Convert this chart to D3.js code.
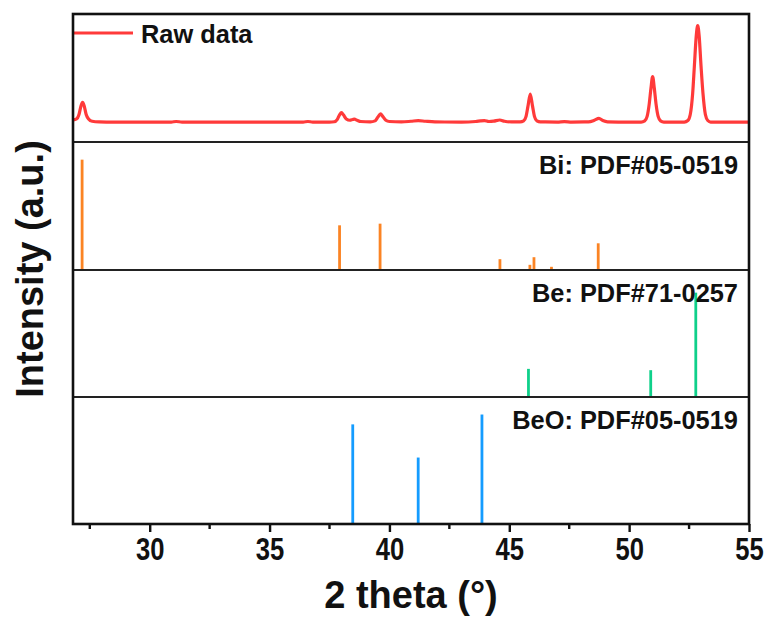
<!DOCTYPE html>
<html>
<head>
<meta charset="utf-8">
<script src="https://cdn.jsdelivr.net/npm/d3@7"></script>
<style>
  html, body { margin: 0; padding: 0; background: #fff; }
  svg text { font-family: Arial, "Liberation Sans", sans-serif; font-weight: bold; fill: #111; }
</style>
</head>
<body>
<svg id="chart" width="774" height="624"></svg>
<script>
// Measured XRD pattern: [2θ (°), intensity (counts, a.u.)]
const rawPattern = [
  [26.8, 172], [26.95, 180], [27.05, 215], [27.13, 280], [27.2, 310], [27.27, 280],
  [27.35, 215], [27.45, 180], [27.6, 162], [27.9, 157], [28.5, 155], [29.5, 155],
  [30.5, 155], [30.9, 156], [31.1, 160], [31.35, 156], [32.5, 155], [34.0, 155],
  [35.5, 155], [36.4, 156], [36.6, 160], [36.8, 156], [37.5, 156], [37.7, 158],
  [37.82, 175], [37.92, 212], [38.0, 229], [38.08, 212], [38.2, 180], [38.35, 170],
  [38.47, 176], [38.54, 178], [38.65, 170], [38.8, 160], [39.2, 157], [39.4, 165],
  [39.52, 195], [39.63, 219], [39.72, 200], [39.85, 170], [40.0, 160], [40.5, 157],
  [40.9, 162], [41.2, 167], [41.5, 162], [41.9, 157], [43.0, 156], [43.6, 160],
  [43.8, 165], [43.96, 167], [44.15, 160], [44.35, 163], [44.6, 172], [44.8, 162],
  [45.1, 157], [45.45, 157], [45.6, 165], [45.7, 200], [45.78, 280], [45.875, 375],
  [45.97, 280], [46.05, 200], [46.15, 165], [46.3, 157], [47.0, 156], [47.3, 159],
  [47.6, 156], [48.3, 157], [48.55, 170], [48.74, 185], [48.9, 168], [49.1, 158],
  [50.0, 156], [50.5, 156], [50.65, 165], [50.75, 200], [50.84, 300], [50.91, 420],
  [50.98, 510], [51.05, 420], [51.12, 300], [51.21, 200], [51.31, 165], [51.45, 156],
  [52.3, 156], [52.45, 168], [52.55, 215], [52.65, 380], [52.72, 590], [52.8, 830],
  [52.86, 909], [52.92, 830], [53.0, 590], [53.08, 380], [53.18, 215], [53.28, 168],
  [53.4, 156], [54.2, 156], [55.0, 156]
];

// Reference patterns: peak position (2θ) and relative intensity
const biPositions  = [27.18, 37.92, 39.61, 44.61, 45.86, 46.03, 46.76, 48.71];
const biIntensity  = [100, 40.5, 42, 9.8, 4.7, 11.6, 2.9, 24.2];
const bePositions  = [45.80, 50.90, 52.78];
const beIntensity  = [25.7, 24.5, 95.3];
const beoPositions = [38.47, 41.20, 43.86];
const beoIntensity = [91, 60.7, 100];

const panelLabels = ["Bi: PDF#05-0519", "Be: PDF#71-0257", "BeO: PDF#05-0519"];
const majorTicks = [30, 35, 40, 45, 50, 55];
const minorTicks = [27.5, 32.5, 37.5, 42.5, 47.5, 52.5];
const xTitle = "2 theta (°)";
const yTitle = "Intensity (a.u.)";
const legendLabel = "Raw data";

const svg = d3.select("#chart");
const left = 73, right = 749;
const bands = [14, 142, 270, 397, 524];   // panel edges, top to bottom

const x = d3.scaleLinear().domain([26.8, 55]).range([left, right]);
const yRaw = d3.scaleLinear().domain([0, 1000]).range([bands[1], bands[0]]);

const colors = { raw: "#ff3a3a", bi: "#fb8424", be: "#0fd08a", beo: "#149cff" };

// Raw data trace
svg.append("path")
  .datum(rawPattern)
  .attr("fill", "none")
  .attr("stroke", colors.raw)
  .attr("stroke-width", 3.2)
  .attr("stroke-linejoin", "round")
  .attr("d", d3.line().x(d => x(d[0])).y(d => yRaw(d[1])).curve(d3.curveMonotoneX));

// Legend
svg.append("line")
  .attr("x1", left).attr("x2", 133).attr("y1", 33).attr("y2", 33)
  .attr("stroke", colors.raw).attr("stroke-width", 3.2);
svg.append("text").attr("x", 141).attr("y", 42.5).attr("font-size", 25.4).text(legendLabel);

// Stick patterns
const refs = [
  { pos: biPositions, val: biIntensity, color: colors.bi },
  { pos: bePositions, val: beIntensity, color: colors.be },
  { pos: beoPositions, val: beoIntensity, color: colors.beo }
];
refs.forEach((r, i) => {
  const top = bands[i + 1], bottom = bands[i + 2];
  const y = d3.scaleLinear().domain([0, 116]).range([bottom, top]);
  svg.append("g").selectAll("line")
    .data(r.pos.map((p, k) => [p, r.val[k]]))
    .join("line")
    .attr("x1", d => x(d[0])).attr("x2", d => x(d[0]))
    .attr("y1", y(0)).attr("y2", d => y(d[1]))
    .attr("stroke", r.color).attr("stroke-width", 2.8);
  svg.append("text")
    .attr("x", 738).attr("y", top + 31.5)
    .attr("text-anchor", "end").attr("font-size", 25.4)
    .text(panelLabels[i]);
});

// Panel separators
svg.append("g").selectAll("line")
  .data(bands.slice(1, 4))
  .join("line")
  .attr("x1", left).attr("x2", right)
  .attr("y1", d => d).attr("y2", d => d)
  .attr("stroke", "#222").attr("stroke-width", 2.2);

// Frame
svg.append("rect")
  .attr("x", left).attr("y", bands[0])
  .attr("width", right - left).attr("height", bands[4] - bands[0])
  .attr("fill", "none").attr("stroke", "#111").attr("stroke-width", 2.6);

// Bottom axis
const axis = svg.append("g").attr("transform", `translate(0,${bands[4]})`);
axis.call(d3.axisBottom(x).tickValues(majorTicks).tickSize(8).tickPadding(5).tickFormat(d3.format("d")));
axis.select(".domain").remove();
axis.selectAll(".tick line").attr("stroke", "#111").attr("stroke-width", 2.4);
axis.selectAll(".tick text")
  .attr("font-size", 32).attr("fill", "#111")
  .attr("transform", "scale(0.8,1)")
  .style("font-family", "Arial, 'Liberation Sans', sans-serif").style("font-weight", "bold");
axis.selectAll(".minor").data(minorTicks).join("line")
  .attr("class", "minor")
  .attr("x1", d => x(d)).attr("x2", d => x(d))
  .attr("y1", 0).attr("y2", 5)
  .attr("stroke", "#111").attr("stroke-width", 2.4);

// Axis titles
svg.append("text")
  .attr("x", (left + right) / 2).attr("y", 608)
  .attr("text-anchor", "middle").attr("font-size", 38)
  .text(xTitle);
svg.append("text")
  .attr("transform", `translate(43,${(bands[0] + bands[4]) / 2}) rotate(-90)`)
  .attr("text-anchor", "middle").attr("font-size", 38)
  .text(yTitle);
</script>
</body>
</html>
